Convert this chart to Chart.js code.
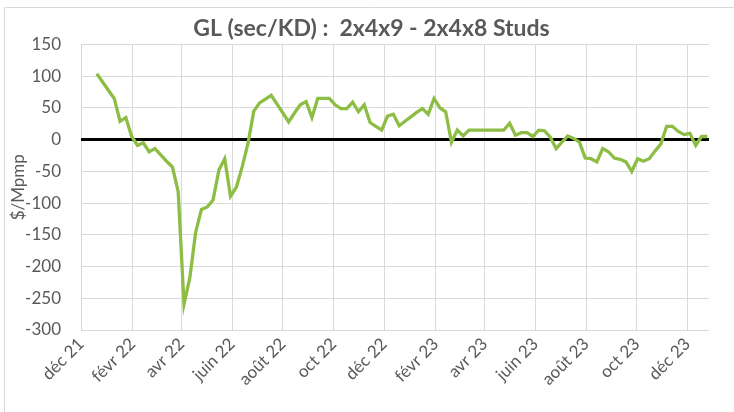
<!DOCTYPE html>
<html>
<head>
<meta charset="utf-8">
<script src="https://cdn.jsdelivr.net/npm/chart.js@4.4.0/dist/chart.umd.min.js"></script>
<style>
  html, body { margin: 0; padding: 0; background: #ffffff; }
  #wrap { width: 734px; height: 412px; position: relative; }
</style>
</head>
<body>
<div id="wrap"><canvas id="c" width="734" height="412"></canvas></div>
<script>
// ---- data ----
const weekDates = [
  "2021-12-20","2021-12-27",
  "2022-01-03","2022-01-10","2022-01-17","2022-01-24","2022-01-31","2022-02-07","2022-02-14","2022-02-21","2022-02-28",
  "2022-03-07","2022-03-14","2022-03-21","2022-03-28","2022-04-04","2022-04-11","2022-04-18","2022-04-25",
  "2022-05-02","2022-05-09","2022-05-16","2022-05-23","2022-05-30","2022-06-06","2022-06-13","2022-06-20","2022-06-27",
  "2022-07-04","2022-07-11","2022-07-18","2022-07-25","2022-08-01","2022-08-08","2022-08-15","2022-08-22","2022-08-29",
  "2022-09-05","2022-09-12","2022-09-19","2022-09-26","2022-10-03","2022-10-10","2022-10-17","2022-10-24","2022-10-31",
  "2022-11-07","2022-11-14","2022-11-21","2022-11-28","2022-12-05","2022-12-12","2022-12-19","2022-12-26",
  "2023-01-02","2023-01-09","2023-01-16","2023-01-23","2023-01-30","2023-02-06","2023-02-13","2023-02-20","2023-02-27",
  "2023-03-06","2023-03-13","2023-03-20","2023-03-27","2023-04-03","2023-04-10","2023-04-17","2023-04-24",
  "2023-05-01","2023-05-08","2023-05-15","2023-05-22","2023-05-29","2023-06-05","2023-06-12","2023-06-19","2023-06-26",
  "2023-07-03","2023-07-10","2023-07-17","2023-07-24","2023-07-31","2023-08-07","2023-08-14","2023-08-21","2023-08-28",
  "2023-09-04","2023-09-11","2023-09-18","2023-09-25","2023-10-02","2023-10-09","2023-10-16","2023-10-23","2023-10-30",
  "2023-11-06","2023-11-13","2023-11-20","2023-11-27","2023-12-04","2023-12-11","2023-12-18","2023-12-25"
];
const spreadValues = [
  104, 91, 78, 65, 29, 35, 5, -9, -5, -19,
  -14, -24, -34, -43, -82, -259, -218, -146, -110, -106,
  -95, -48, -30, -89, -75, -43, -6, 45, 58, 64,
  70, 56, 42, 28, 42, 55, 60, 35, 65, 65,
  65, 55, 49, 49, 59, 44, 55, 27, 21, 15,
  37, 40, 22, 29, 36, 43, 49, 40, 65, 50,
  44, -4, 15, 6, 15, 15, 15, 15, 15, 15,
  15, 26, 7, 11, 11, 5, 15, 14, 4, -14,
  -4, 6, 2, -4, -29, -30, -35, -14, -19, -29,
  -31, -35, -50, -30, -34, -30, -18, -7, 21, 21,
  13, 8, 10, -9, 5, 5
];
const tickDates = ["2021-12-01","2022-02-01","2022-04-01","2022-06-01","2022-08-01","2022-10-01",
                   "2022-12-01","2023-02-01","2023-04-01","2023-06-01","2023-08-01","2023-10-01","2023-12-01"];
const tickLabels = ["déc 21","févr 22","avr 22","juin 22","août 22","oct 22","déc 22",
                    "févr 23","avr 23","juin 23","août 23","oct 23","déc 23"];
const axisStart = "2021-12-01";
const axisEnd = "2023-12-27";
const yTicks = [150, 100, 50, 0, -50, -100, -150, -200, -250, -300];

// ---- helpers ----
const DAY = 86400000;
const toDays = s => (Date.parse(s + "T00:00:00Z") - Date.parse(axisStart + "T00:00:00Z")) / DAY;
const points = weekDates.map((d, i) => ({ x: toDays(d), y: spreadValues[i] }));
const tickPos = tickDates.map(toDays);

const TXT = '#595959';
const GRID = '#d9d9d9';

const framePlugin = {
  id: 'frame',
  afterLayout(chart) {
    // shift the title's centring box slightly right, as in the reference
    if (chart.titleBlock) { chart.titleBlock.left = 34; }
  },
  beforeDraw(chart) {
    const ctx = chart.ctx;
    ctx.save();
    ctx.fillStyle = '#ffffff';
    ctx.fillRect(0, 0, chart.width, chart.height);
    ctx.strokeStyle = '#d9d9d9';
    ctx.lineWidth = 1;
    ctx.beginPath();
    ctx.moveTo(4.5, chart.height + 2);
    ctx.lineTo(4.5, 7.5);
    ctx.lineTo(chart.width + 2, 7.5);
    ctx.stroke();
    ctx.restore();
  }
};

new Chart(document.getElementById('c'), {
  type: 'line',
  data: {
    datasets: [{
      label: 'GL (sec/KD) : 2x4x9 - 2x4x8 Studs',
      data: points,
      borderColor: '#8dbd44',
      backgroundColor: '#8dbd44',
      borderWidth: 3.3,
      pointRadius: 0,
      tension: 0,
      borderJoinStyle: 'miter',
      fill: false
    }]
  },
  options: {
    responsive: false,
    animation: false,
    devicePixelRatio: 1,
    layout: { padding: { left: 5, right: 25, top: 0, bottom: 0 } },
    plugins: {
      legend: { display: false },
      tooltip: { enabled: false },
      title: {
        display: true,
        text: 'GL (sec/KD) :  2x4x9 - 2x4x8 Studs',
        color: TXT,
        font: { family: 'Lato', size: 23, weight: 'bold' },
        padding: { top: 15, bottom: 1.9 }
      }
    },
    scales: {
      x: {
        type: 'linear',
        min: toDays(axisStart),
        max: toDays(axisEnd),
        afterBuildTicks(scale) {
          scale.ticks = tickPos.map(v => ({ value: v }));
        },
        afterFit(scale) { scale.height = 82; },
        ticks: {
          autoSkip: false,
          maxRotation: 45,
          minRotation: 45,
          padding: 4,
          color: TXT,
          font: { family: 'Lato', size: 17 },
          callback: (v) => { const i = tickPos.indexOf(v); return i >= 0 ? tickLabels[i] : ''; }
        },
        grid: { color: GRID, lineWidth: 1, drawTicks: false },
        border: { display: false }
      },
      y: {
        min: -300,
        max: 150,
        afterBuildTicks(scale) {
          scale.ticks = yTicks.map(v => ({ value: v }));
        },
        afterFit(scale) { scale.width = 76; },
        ticks: {
          padding: 20,
          color: TXT,
          font: { family: 'Lato', size: 17 }
        },
        grid: {
          drawTicks: false,
          color: ctx => (ctx.tick && ctx.tick.value === 0) ? '#000000' : GRID,
          lineWidth: ctx => (ctx.tick && ctx.tick.value === 0) ? 3 : 1
        },
        border: { display: false },
        title: {
          display: true,
          text: '$/Mpmp',
          color: TXT,
          font: { family: 'Lato', size: 17 },
          padding: { top: 3, bottom: 0 }
        }
      }
    }
  },
  plugins: [framePlugin]
});
</script>
</body>
</html>
